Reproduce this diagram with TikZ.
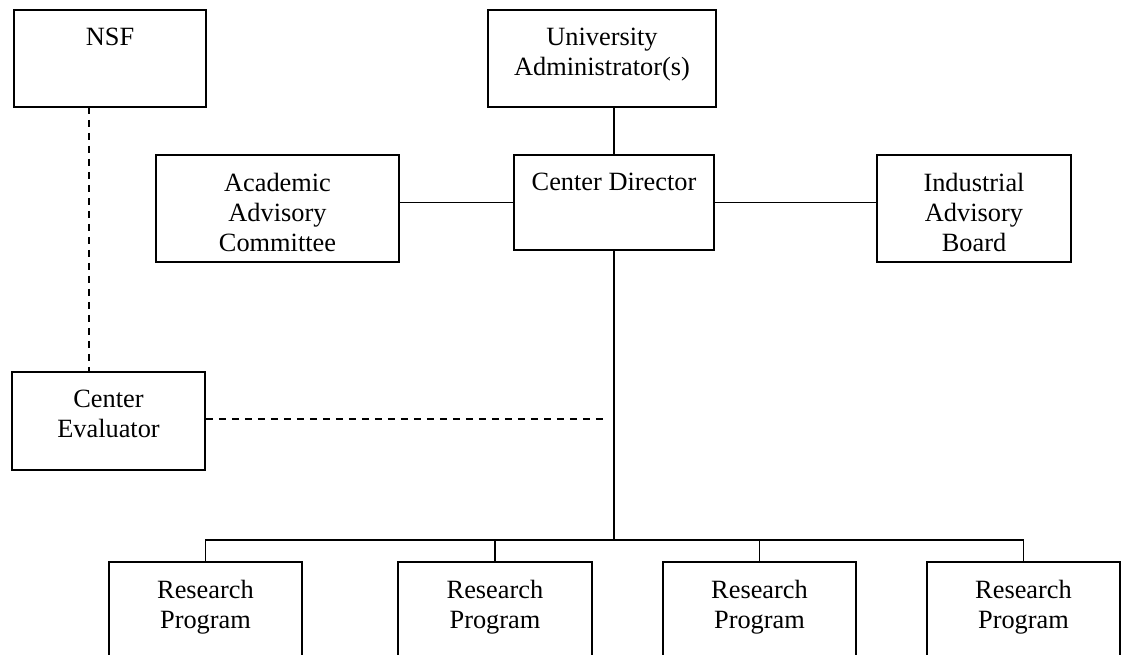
\documentclass[tikz,border=0pt]{standalone}
\usepackage{fontspec}
\setmainfont{Liberation Serif}
\tikzset{
  box/.style={draw, line width=1pt, inner sep=0pt},
  lbl/.style={anchor=north, yshift=-0.38cm, inner sep=0pt, align=center, font=\fontsize{15}{17}\selectfont},
  conn/.style={line width=1pt},
  dconn/.style={line width=1pt, dash pattern=on 0.15cm off 0.11cm},
}
\newcommand\bx[6]{%
  \pgfmathsetmacro\bw{(#4-#2)*0.02}%
  \pgfmathsetmacro\bh{(#5-#3)*0.02}%
  \node[box, minimum width=\bw cm, minimum height=\bh cm] (#1) at ({(#2+#4)/2},{(#3+#5)/2}) {};
  \node[lbl] (#1-t) at (#1.north) {#6};
}
\begin{document}
\begin{tikzpicture}[x=0.02cm, y=-0.02cm]
\clip (0,0) rectangle (1122,655);
\fill[white] (0,0) rectangle (1122,655);
\bx{nsf}{14}{10}{206}{107}{NSF}
\bx{univ}{488}{10}{716}{107}{University\\Administrator(s)}
\bx{aac}{156}{155}{399}{262}{Academic\\Advisory\\Committee}
\bx{cd}{514}{155}{714}{250}{Center Director}
\bx{iab}{877}{155}{1071}{262}{Industrial\\Advisory\\Board}
\bx{ev}{12}{372}{205}{470}{Center\\Evaluator}
\bx{rp1}{109}{562}{302}{700}{Research\\Program}
\bx{rp2}{398}{562}{592}{700}{Research\\Program}
\bx{rp3}{663}{562}{856}{700}{Research\\Program}
\bx{rp4}{927}{562}{1120}{700}{Research\\Program}
\coordinate (bus) at (614,540);
\coordinate (nd) at (89,107);
\coordinate (de) at (605,419);
\draw[conn] (cd.north) -- (cd.north |- univ.south);
\draw[conn] (cd.west) -- (cd.west -| aac.east);
\draw[conn] (cd.east) -- (cd.east -| iab.west);
\draw[conn] (cd.south) -- (bus);
\draw[conn] (rp1.north) -- (rp1.north |- bus) -- (rp4.north |- bus) -- (rp4.north);
\draw[conn] (rp2.north) -- (rp2.north |- bus);
\draw[conn] (rp3.north) -- (rp3.north |- bus);
\draw[dconn] (nd) -- (nd |- ev.north);
\draw[dconn] (ev.east |- de) -- (de);
\end{tikzpicture}
\end{document}
